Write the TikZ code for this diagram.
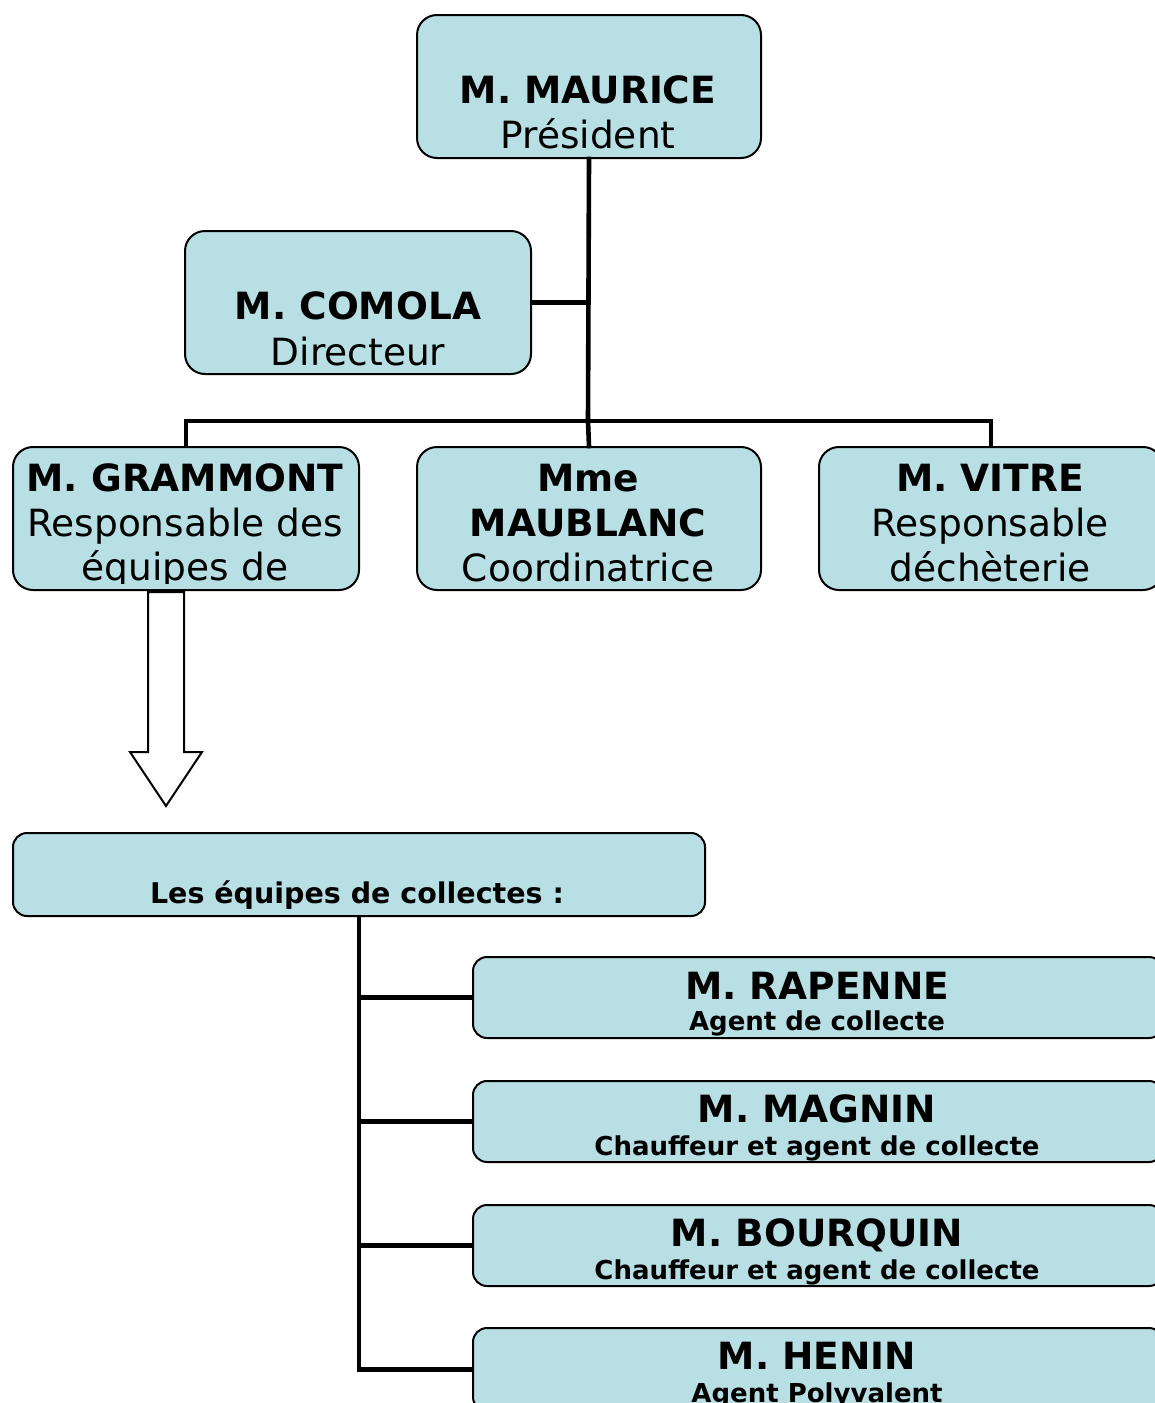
\documentclass[tikz,border=0pt]{standalone}
\usepackage{fontspec}
\setmainfont{DejaVu Sans}
\definecolor{boxfill}{RGB}{184,223,227}
\begin{document}
\begin{tikzpicture}[x=1pt,y=-1pt,
  box/.style={draw=black, line width=2pt, fill=boxfill, rounded corners=20pt, inner sep=0pt, anchor=north west},
  sbox/.style={box, rounded corners=14pt},
  conn/.style={line width=4.6pt, line join=miter, line cap=rect},
  big/.style={font=\fontsize{37.5}{40}\selectfont\bfseries, anchor=base, inner sep=0pt},
  reg/.style={font=\fontsize{37.5}{40}\selectfont, anchor=base, inner sep=0pt},
  mid/.style={font=\fontsize{28.5}{32}\selectfont\bfseries, anchor=base, inner sep=0pt},
  small/.style={font=\fontsize{26}{28}\selectfont\bfseries, anchor=base, inner sep=0pt}]
\useasboundingbox[fill=white] (0,0) rectangle (1155,1403);
\clip (0,0) rectangle (1155,1403);

% boxes
\node[box, minimum width=344pt, minimum height=143pt] (maurice) at (416,14) {};
\node[box, minimum width=346pt, minimum height=143pt] (comola) at (184,230) {};
\node[box, minimum width=346pt, minimum height=143pt] (grammont) at (12,446) {};
\node[box, minimum width=344pt, minimum height=143pt] (maublanc) at (416,446) {};
\node[box, minimum width=344pt, minimum height=143pt] (vitre) at (818,446) {};
\node[sbox, minimum width=692pt, minimum height=83pt] (collectes) at (12,832) {};
\node[sbox, minimum width=690pt, minimum height=81pt] (rapenne) at (472,956) {};
\node[sbox, minimum width=690pt, minimum height=81pt] (magnin) at (472,1080) {};
\node[sbox, minimum width=690pt, minimum height=81pt] (bourquin) at (472,1204) {};
\node[sbox, minimum width=690pt, minimum height=83pt] (henin) at (472,1327) {};

% connectors
\coordinate (j1) at (588,421);
\draw[conn] (maurice.south) -- (j1);
\draw[conn] (comola.east) -- (comola.east -| maurice.south);
\draw[conn] (grammont.north) |- (j1) -| (vitre.north);
\draw[conn] (j1) -- (maublanc.north);
\draw[conn] (collectes.south) |- (henin.west);
\draw[conn] (collectes.south |- rapenne.west) -- (rapenne.west);
\draw[conn] (collectes.south |- magnin.west) -- (magnin.west);
\draw[conn] (collectes.south |- bourquin.west) -- (bourquin.west);

% block arrow
\draw[line width=2pt, fill=white, line join=miter]
  (148,592) -- (184,592) -- (184,752) -- (202,752) -- (166,806) -- (130,752) -- (148,752) -- cycle;

% texts
\node[big] (t1a) at (588,103) {M. MAURICE};
\node[reg] (t1b) at (588,148) {Président};
\node[big] (t2a) at (358,319) {M. COMOLA};
\node[reg] (t2b) at (358,365) {Directeur};
\begin{scope}
\clip (14,448) rectangle (356,583);
\node[big] (t3a) at (185,491) {M. GRAMMONT};
\node[reg] (t3b) at (185,536) {Responsable des};
\node[reg] (t3c) at (185,580) {équipes de};
\end{scope}
\node[big] (t4a) at (588,491) {Mme};
\node[big] (t4b) at (588,536) {MAUBLANC};
\node[reg] (t4c) at (588,581) {Coordinatrice};
\node[big] (t5a) at (990,491) {M. VITRE};
\node[reg] (t5b) at (990,536) {Responsable};
\node[reg] (t5c) at (990,581) {déchèterie};
\node[mid] (t6) at (357,903) {Les équipes de collectes :};
\node[big] (t7a) at (817,999) {M. RAPENNE};
\node[small] (t7b) at (817,1030) {Agent de collecte};
\node[big] (t8a) at (817,1122) {M. MAGNIN};
\node[small] (t8b) at (817,1155) {Chauffeur et agent de collecte};
\node[big] (t9a) at (817,1246) {M. BOURQUIN};
\node[small] (t9b) at (817,1279) {Chauffeur et agent de collecte};
\node[big] (t10a) at (817,1369) {M. HENIN};
\node[small] (t10b) at (817,1402) {Agent Polyvalent};
\end{tikzpicture}
\end{document}
